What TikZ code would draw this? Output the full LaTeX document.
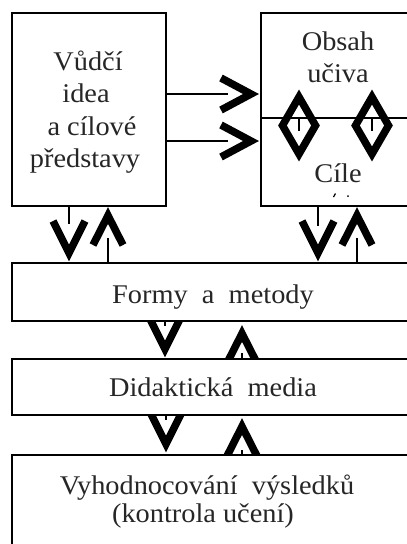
\documentclass[tikz,border=0pt]{standalone}
\usepackage{fontspec}
\setmainfont{Liberation Serif}[FakeStretch=1.05]
\begin{document}
\begin{tikzpicture}[x=1pt,y=-1pt,
  box/.style={draw=black,line width=2pt,fill=white,inner sep=0pt},
  chev/.style={draw=black,line width=7.5pt,miter limit=10,line join=miter,line cap=butt},
  thin/.style={draw=black,line width=2pt},
  lbl/.style={anchor=base,inner sep=0pt,text=black!85,font=\fontsize{27}{32}\selectfont}]
\useasboundingbox (0,0) rectangle (407,544);
\clip (0,0) rectangle (407,544);
% ---- arrows (drawn before the boxes so the boxes cover the arm ends)
% top left pair
\coordinate (a1s) at (69,206); \coordinate (a1e) at (69,224);
\draw[thin] (a1s) -- (a1e);
\draw[chev] (53,221) -- (69,253) -- (85,221);
\coordinate (a2s) at (108,266); \coordinate (a2e) at (108,238);
\draw[thin] (a2s) -- (a2e);
\draw[chev] (93,245) -- (108,215.5) -- (123,245);
% top right pair
\coordinate (a3s) at (318,206); \coordinate (a3e) at (318,226);
\draw[thin] (a3s) -- (a3e);
\draw[chev] (302,221) -- (318,253) -- (334,221);
\coordinate (a4s) at (357,266); \coordinate (a4e) at (357,238);
\draw[thin] (a4s) -- (a4e);
\draw[chev] (342,245) -- (357,215.5) -- (372,245);
% middle pair
\coordinate (b1s) at (165,321); \coordinate (b1e) at (165,326);
\draw[thin] (b1s) -- (b1e);
\draw[chev] (148,315) -- (165,349) -- (182,315);
\coordinate (b2s) at (242,359); \coordinate (b2e) at (242,353);
\draw[thin] (b2s) -- (b2e);
\draw[chev] (227,363) -- (242,333.5) -- (257,363);
% lower pair
\coordinate (c1s) at (166,415); \coordinate (c1e) at (166,420);
\draw[thin] (c1s) -- (c1e);
\draw[chev] (149,410) -- (166,444) -- (183,410);
\coordinate (c2s) at (242,455); \coordinate (c2e) at (242,450);
\draw[thin] (c2s) -- (c2e);
\draw[chev] (225,460) -- (242,426.5) -- (259,460);
% ---- boxes
\node[box,minimum width=154pt,minimum height=193pt] (lbox) at (89,109.5) {};
\node[box,minimum width=160pt,minimum height=193pt] (rbox) at (341,109.5) {};
\node[box,minimum width=410pt,minimum height=58pt] (forms) at (217,292) {};
\node[box,minimum width=410pt,minimum height=56pt] (media) at (217,387) {};
\node[box,minimum width=410pt,minimum height=110pt] (eval) at (217,510) {};
% divider in right box
\coordinate (dv1) at (261,118); \coordinate (dv2) at (420,118);
\draw[thin] (dv1) -- (dv2);
% horizontal arrows from left box to right box
\coordinate (h1s) at (166,94); \coordinate (h1e) at (228,94);
\coordinate (h2s) at (166,141); \coordinate (h2e) at (228,141);
\draw[thin] (h1s) -- (h1e);
\draw[thin] (h2s) -- (h2e);
\draw[chev] (221,78) -- (251,94) -- (221,110);
\draw[chev] (221,125) -- (251,141) -- (221,157);
% diamonds
\draw[thin] (299,118) -- (299,131);
\draw[thin] (372,118) -- (372,131);
\draw[chev] (299,97) -- (315.5,125.5) -- (299,154) -- (282.5,125.5) -- cycle;
\draw[chev] (372,97) -- (388.5,125.5) -- (372,154) -- (355.5,125.5) -- cycle;
% tiny marks under "Cile"
\draw[black,line width=1.2pt] (333.5,197) -- (335.5,193.5);
\fill[black] (348,196) circle (1pt);
% ---- texts
\node[lbl] (t1) at (88,70) {Vůdčí};
\node[lbl] (t2) at (86,102) {idea};
\node[lbl] (t3) at (92,135) {a cílové};
\node[lbl] (t4) at (85,167) {představy};
\node[lbl] (t5) at (338,50) {Obsah};
\node[lbl] (t6) at (338,82) {učiva};
\node[lbl] (t7) at (338,182) {Cíle};
\node[lbl] (t8) at (213,303) {Formy\ \ a\ \ metody};
\node[lbl] (t9) at (213,396) {Didaktická\ \ media};
\node[lbl] (t10) at (207,494) {Vyhodnocování\ \ výsledků};
\node[lbl] (t11) at (203,522) {(kontrola učení)};
\end{tikzpicture}
\end{document}
